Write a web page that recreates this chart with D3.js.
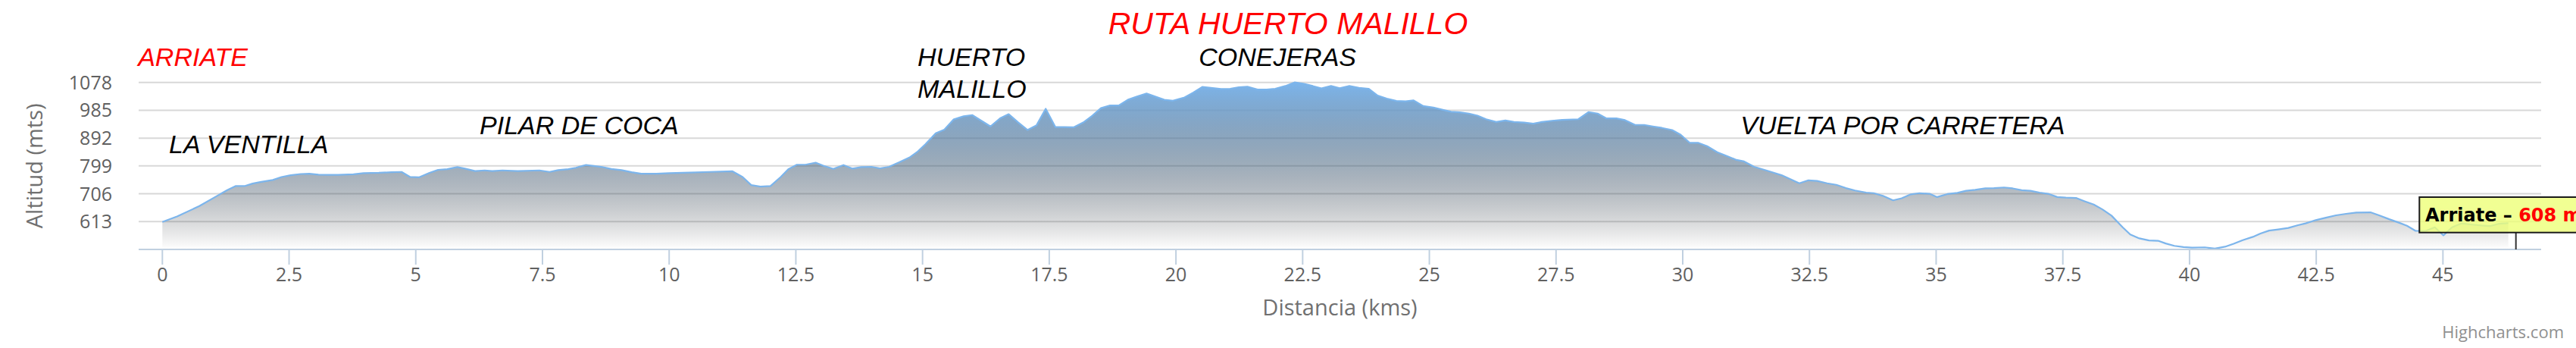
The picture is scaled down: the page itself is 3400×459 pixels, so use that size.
<!DOCTYPE html>
<html>
<head>
<meta charset="utf-8">
<script src="https://cdnjs.cloudflare.com/ajax/libs/d3/7.8.5/d3.min.js"></script>
<style>
html,body{margin:0;padding:0;background:#ffffff;overflow:hidden;}
svg{display:block;}
</style>
</head>
<body>
<svg id="chart"></svg>
<script>
// ---------------- DATA ----------------
const chartTitle = "RUTA HUERTO MALILLO";
const xAxisTitle = "Distancia (kms)";
const yAxisTitle = "Altitud (mts)";
const creditText = "Highcharts.com";

const distKm = [
  0, 0.29, 0.73, 1.08, 1.28, 1.45, 1.63, 1.78, 1.93, 2.18, 2.35, 2.53, 2.73, 2.90, 3.08, 3.27, 3.47, 3.77, 3.97, 4.27,
  4.52, 4.72, 4.89, 5.07, 5.27, 5.44, 5.62, 5.82, 5.97, 6.17, 6.36, 6.51, 6.71, 7.01, 7.44, 7.64, 7.81, 8.01, 8.16, 8.36,
  8.66, 8.86, 9.06, 9.26, 9.45, 9.75, 10.00, 10.40, 10.80, 11.25, 11.45, 11.62, 11.80, 12.00, 12.20, 12.35, 12.52, 12.69, 12.89, 13.04,
  13.24, 13.44, 13.62, 13.79, 13.99, 14.16, 14.34, 14.54, 14.74, 14.89, 15.06, 15.26, 15.43, 15.61, 15.81, 15.98, 16.16, 16.34, 16.53, 16.70,
  16.89, 17.07, 17.25, 17.43, 17.62, 17.80, 17.98, 18.17, 18.35, 18.52, 18.70, 18.87, 19.05, 19.22, 19.42, 19.60, 19.77, 19.94, 20.17, 20.34,
  20.52, 20.69, 20.89, 21.07, 21.24, 21.41, 21.61, 21.79, 21.96, 22.16, 22.34, 22.51, 22.70, 22.87, 23.06, 23.23, 23.42, 23.61, 23.80, 23.98,
  24.16, 24.35, 24.53, 24.69, 24.88, 25.08, 25.25, 25.43, 25.60, 25.78, 25.95, 26.12, 26.32, 26.50, 26.67, 26.87, 27.05, 27.22, 27.42, 27.62,
  27.94, 28.14, 28.32, 28.49, 28.69, 28.86, 29.06, 29.24, 29.41, 29.59, 29.79, 29.96, 30.14, 30.31, 30.48, 30.68, 30.86, 31.06, 31.21, 31.41,
  31.61, 31.78, 31.95, 32.13, 32.30, 32.48, 32.65, 32.85, 33.03, 33.22, 33.40, 33.62, 33.77, 33.95, 34.15, 34.32, 34.50, 34.67, 34.87, 35.02,
  35.22, 35.42, 35.59, 35.77, 35.97, 36.14, 36.34, 36.51, 36.69, 36.86, 37.04, 37.21, 37.39, 37.56, 37.76, 37.93, 38.11, 38.28, 38.46, 38.58,
  38.68, 38.83, 39.01, 39.20, 39.38, 39.53, 39.70, 39.88, 40.05, 40.30, 40.50, 40.70, 40.87, 41.05, 41.25, 41.40, 41.57, 41.75, 41.95, 42.14,
  42.29, 42.49, 42.69, 42.89, 43.09, 43.29, 43.57, 43.74, 43.94, 44.14, 44.29, 44.46, 44.66, 44.84, 45.01, 45.18, 45.36, 45.58, 45.76, 45.93,
  46.11, 46.29
];
const altM = [
  612, 630, 665, 699, 718, 732, 732, 740, 745, 752, 762, 768, 772, 773, 770, 769, 769, 771, 775, 776,
  778, 779, 762, 761, 776, 786, 788, 795, 790, 782, 784, 782, 784, 782, 784, 779, 785, 788, 793, 802,
  796, 789, 785, 778, 773, 773, 775, 777, 779, 781, 762, 735, 730, 732, 762, 788, 803, 803, 810, 800,
  789, 802, 790, 795, 796, 791, 796, 811, 827, 845, 872, 908, 920, 954, 965, 969, 950, 931, 958, 972,
  944, 919, 935, 990, 929, 929, 928, 944, 967, 992, 1001, 1001, 1020, 1030, 1041, 1030, 1020, 1017, 1028, 1044,
  1063, 1060, 1056, 1057, 1062, 1064, 1054, 1054, 1057, 1066, 1078, 1074, 1066, 1058, 1066, 1059, 1066, 1060, 1057, 1034,
  1024, 1016, 1015, 1018, 999, 994, 987, 980, 978, 974, 967, 955, 946, 951, 946, 944, 940, 946, 950, 953,
  955, 979, 974, 958, 958, 952, 936, 936, 931, 926, 919, 903, 876, 876, 865, 845, 833, 819, 814, 796,
  786, 777, 768, 754, 741, 751, 749, 741, 736, 725, 717, 710, 708, 699, 684, 691, 704, 708, 706, 695,
  705, 709, 716, 719, 724, 725, 727, 724, 718, 716, 710, 706, 695, 693, 692, 681, 670, 654, 633, 612,
  594, 570, 557, 550, 549, 540, 532, 528, 526, 527, 523, 529, 539, 551, 562, 573, 583, 587, 592, 601,
  607, 618, 626, 634, 639, 643, 644, 634, 621, 609, 599, 582, 582, 594, 567, 594, 607, 603, 600, 598,
  606, 608
];

const yTickValues = [613, 706, 799, 892, 985, 1078];
const yTickLabels = ["613", "706", "799", "892", "985", "1078"];
const xTickValues = [0, 2.5, 5, 7.5, 10, 12.5, 15, 17.5, 20, 22.5, 25, 27.5, 30, 32.5, 35, 37.5, 40, 42.5, 45];
const xTickLabels = ["0", "2.5", "5", "7.5", "10", "12.5", "15", "17.5", "20", "22.5", "25", "27.5", "30", "32.5", "35", "37.5", "40", "42.5", "45"];

const placeNames = ["ARRIATE", "LA VENTILLA", "PILAR DE COCA", "HUERTO", "MALILLO", "CONEJERAS", "VUELTA POR CARRETERA"];

const tooltipName = "Arriate";
const tooltipValue = 608;
const tooltipUnit = " m";
const tooltipKm = 46.44;

// ---------------- LAYOUT / STYLE ----------------
const W = 3400, H = 459;
const plot = {left: 183, right: 3354, top: 108.7, bottom: 329};
const xDomain = [-0.468, 46.938];
const yDomain = [520, 1078];

// anchor of each place label, in data coordinates (km, m)
const placeAnchors = [
  {km: -0.48, alt: 1133, color: "#ff0000"},
  {km: 0.13,  alt: 842,  color: "#000000"},
  {km: 6.26,  alt: 906,  color: "#000000"},
  {km: 14.90, alt: 1133, color: "#000000"},
  {km: 14.90, alt: 1026, color: "#000000"},
  {km: 20.45, alt: 1133, color: "#000000"},
  {km: 31.14, alt: 906,  color: "#000000"}
];

const svg = d3.select("#chart").attr("width", W).attr("height", H)
  .style("font-family", "'Open Sans', sans-serif");

const x = d3.scaleLinear().domain(xDomain).range([plot.left, plot.right]);
const y = d3.scaleLinear().domain(yDomain).range([plot.bottom, plot.top]);

const data = distKm.map((d, i) => ({km: d, alt: altM[i]}));

// gradient (series colour fading to transparent black)
const defs = svg.append("defs");
const grad = defs.append("linearGradient").attr("id", "areaGrad")
  .attr("gradientUnits", "userSpaceOnUse")
  .attr("x1", 0).attr("x2", 0)
  .attr("y1", y(d3.max(altM))).attr("y2", y(yDomain[0]));
const base = [124, 181, 236];
for (let i = 0; i <= 20; i++) {
  const t = i / 20;
  grad.append("stop").attr("offset", t)
    .attr("stop-color", `rgb(${Math.round(base[0]*(1-t))},${Math.round(base[1]*(1-t))},${Math.round(base[2]*(1-t))})`)
    .attr("stop-opacity", 1 - t);
}

// grid lines
svg.append("g").selectAll("line").data(yTickValues).join("line")
  .attr("x1", plot.left).attr("x2", plot.right)
  .attr("y1", d => y(d)).attr("y2", d => y(d))
  .attr("stroke", "#d8d8d8").attr("stroke-width", 2);

// area + line
const area = d3.area().x(d => x(d.km)).y0(y(yDomain[0])).y1(d => y(d.alt));
const line = d3.line().x(d => x(d.km)).y(d => y(d.alt));
svg.append("path").datum(data).attr("d", area).attr("fill", "url(#areaGrad)");
svg.append("path").datum(data).attr("d", line).attr("fill", "none")
  .attr("stroke", "#7cb5ec").attr("stroke-width", 2.2).attr("stroke-linejoin", "round");

// x axis
svg.append("line").attr("x1", plot.left).attr("x2", plot.right)
  .attr("y1", plot.bottom).attr("y2", plot.bottom)
  .attr("stroke", "#c0d0e0").attr("stroke-width", 2);
const xt = svg.append("g");
xt.selectAll("line").data(xTickValues).join("line")
  .attr("x1", d => x(d)).attr("x2", d => x(d))
  .attr("y1", plot.bottom).attr("y2", plot.bottom + 20)
  .attr("stroke", "#c0d0e0").attr("stroke-width", 2);
xt.selectAll("text").data(xTickValues).join("text")
  .attr("x", d => x(d)).attr("y", 371)
  .attr("text-anchor", "middle").attr("font-size", 25).attr("fill", "#606060")
  .text((d, i) => xTickLabels[i]);

// y axis labels
svg.append("g").selectAll("text").data(yTickValues).join("text")
  .attr("x", 148).attr("y", d => y(d) + 9)
  .attr("text-anchor", "end").attr("font-size", 25).attr("fill", "#606060")
  .text((d, i) => yTickLabels[i]);

// axis titles
svg.append("text").attr("x", (plot.left + plot.right) / 2).attr("y", 416)
  .attr("text-anchor", "middle").attr("font-size", 29).attr("fill", "#707070")
  .text(xAxisTitle);
svg.append("text")
  .attr("transform", `translate(56,${(plot.top + plot.bottom) / 2}) rotate(-90)`)
  .attr("text-anchor", "middle").attr("font-size", 29).attr("fill", "#707070")
  .text(yAxisTitle);

// title
svg.append("text").attr("x", W / 2).attr("y", 45)
  .attr("text-anchor", "middle")
  .style("font-family", "'Liberation Sans', Arial, sans-serif")
  .style("font-style", "italic")
  .attr("font-size", 41).attr("fill", "#ff0000")
  .text(chartTitle);

// place labels
svg.append("g").selectAll("text").data(placeNames).join("text")
  .attr("x", (d, i) => x(placeAnchors[i].km))
  .attr("y", (d, i) => y(placeAnchors[i].alt))
  .style("font-family", "'Liberation Sans', Arial, sans-serif")
  .style("font-style", "italic")
  .attr("font-size", 34)
  .attr("fill", (d, i) => placeAnchors[i].color)
  .text(d => d);

// tooltip
const tipX = 3193.3, tipY = 260, tipH = 46.7;
svg.append("line").attr("x1", x(tooltipKm)).attr("x2", x(tooltipKm))
  .attr("y1", tipY + tipH).attr("y2", plot.bottom)
  .attr("stroke", "#333333").attr("stroke-width", 2);
svg.append("rect").attr("x", tipX).attr("y", tipY).attr("width", 260).attr("height", tipH)
  .attr("fill", "rgb(238,255,120)").attr("fill-opacity", 0.8)
  .attr("stroke", "#1a1a1a").attr("stroke-width", 2);
const tipText = svg.append("text").attr("x", 3201).attr("y", 291.5)
  .style("font-family", "'DejaVu Sans', Verdana, sans-serif")
  .attr("font-size", 24).attr("font-weight", "bold");
tipText.append("tspan").attr("fill", "#000000").text(tooltipName + " \u2013 ");
tipText.append("tspan").attr("fill", "#ff0000").text(tooltipValue + tooltipUnit);

// credits
svg.append("text").attr("x", 3384).attr("y", 446)
  .attr("text-anchor", "end").attr("font-size", 22).attr("fill", "#909090")
  .text(creditText);
</script>
</body>
</html>
